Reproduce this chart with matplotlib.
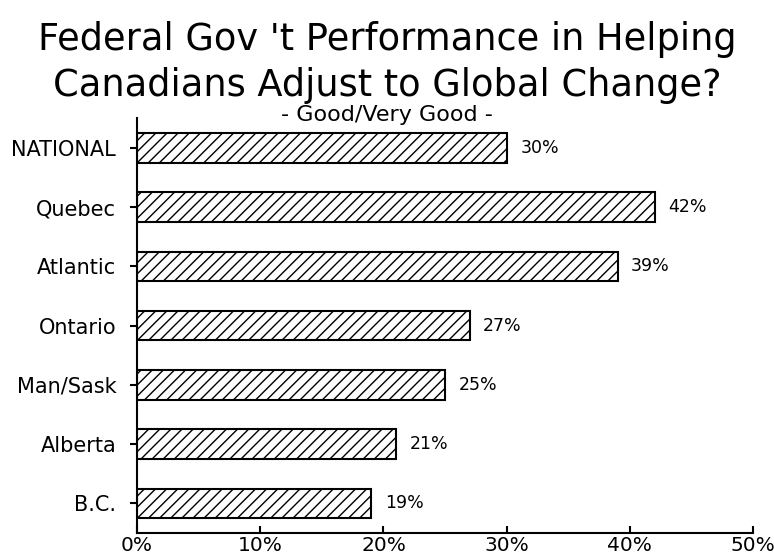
import numpy as np
import matplotlib.pyplot as plt

regions = ["NATIONAL", "Quebec", "Atlantic", "Ontario", "Man/Sask", "Alberta", "B.C."]
good = [30, 42, 39, 27, 25, 21, 19]
xticks = [0, 10, 20, 30, 40, 50]

plt.rcParams['font.family'] = 'DejaVu Sans'
plt.rcParams['hatch.linewidth'] = 1.0

fig = plt.figure(figsize=(7.74, 5.6), dpi=100)
ax = fig.add_axes([0.177, 0.048, 0.796, 0.741])

y = np.arange(len(regions))
ax.barh(y, good, height=0.5, color="white", edgecolor="black", linewidth=1.5, hatch="///")

for yi, v in zip(y, good):
    ax.text(v + 1.1, yi, f"{v}%", va="center", ha="left", fontsize=12.5)

ax.set_ylim(len(regions) - 0.5, -0.5)
ax.set_xlim(0, 50)
ax.set_yticks(y)
ax.set_yticklabels(regions, fontsize=15)
ax.set_xticks(xticks)
ax.set_xticklabels([f"{t}%" for t in xticks], fontsize=14.5)

ax.spines["top"].set_visible(False)
ax.spines["right"].set_visible(False)
ax.spines["left"].set_linewidth(1.5)
ax.spines["bottom"].set_linewidth(1.5)
ax.tick_params(axis="y", direction="out", length=5, width=1.5, pad=10)
ax.tick_params(axis="x", direction="in", length=5, width=1.5, pad=2)

fig.text(0.5, 0.93, "Federal Gov 't Performance in Helping", ha="center", va="center", fontsize=26.5)
fig.text(0.5, 0.848, "Canadians Adjust to Global Change?", ha="center", va="center", fontsize=26.5)
fig.text(0.5, 0.795, "- Good/Very Good -", ha="center", va="center", fontsize=16)

plt.savefig("out.png", dpi=100)
